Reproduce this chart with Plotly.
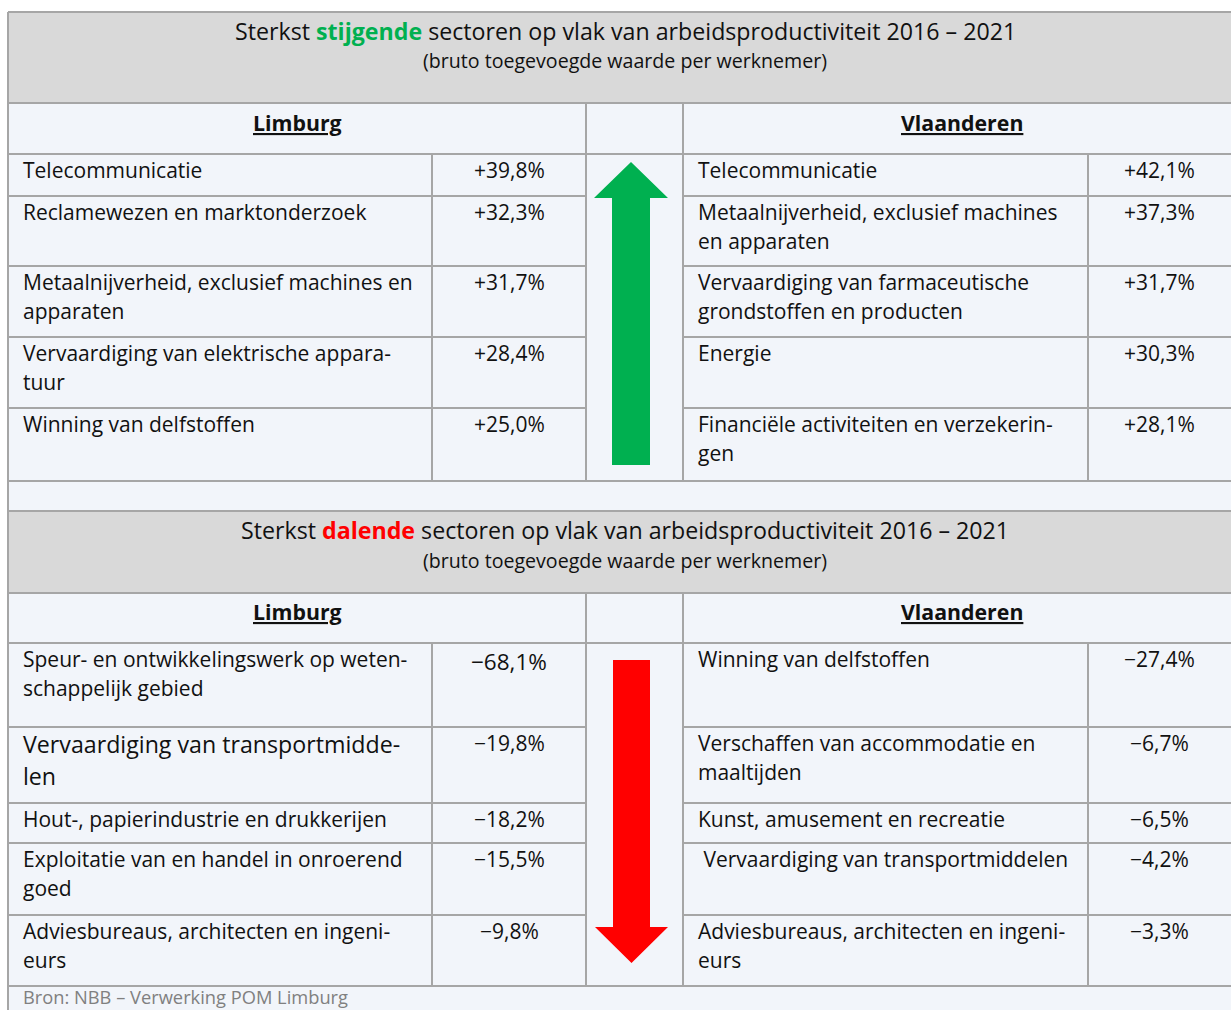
import plotly.graph_objects as go

# ---------------- data ----------------
title_up = "Sterkst <b><span style='color:#00B050'>stijgende</span></b> sectoren op vlak van arbeidsproductiviteit 2016 – 2021"
title_down = "Sterkst <b><span style='color:#FF0000'>dalende</span></b> sectoren op vlak van arbeidsproductiviteit 2016 – 2021"
subtitle = "(bruto toegevoegde waarde per werknemer)"
regions = ["Limburg", "Vlaanderen"]
source = "Bron: NBB – Verwerking POM Limburg"

up_limburg_labels = [
    ["Telecommunicatie"],
    ["Reclamewezen en marktonderzoek"],
    ["Metaalnijverheid, exclusief machines en", "apparaten"],
    ["Vervaardiging van elektrische appara-", "tuur"],
    ["Winning van delfstoffen"],
]
up_limburg_values = [39.8, 32.3, 31.7, 28.4, 25.0]

up_vlaanderen_labels = [
    ["Telecommunicatie"],
    ["Metaalnijverheid, exclusief machines", "en apparaten"],
    ["Vervaardiging van farmaceutische", "grondstoffen en producten"],
    ["Energie"],
    ["Financiële activiteiten en verzekerin-", "gen"],
]
up_vlaanderen_values = [42.1, 37.3, 31.7, 30.3, 28.1]

down_limburg_labels = [
    ["Speur- en ontwikkelingswerk op weten-", "schappelijk gebied"],
    ["Vervaardiging van transportmidde-", "len"],
    ["Hout-, papierindustrie en drukkerijen"],
    ["Exploitatie van en handel in onroerend", "goed"],
    ["Adviesbureaus, architecten en ingeni-", "eurs"],
]
down_limburg_values = [-68.1, -19.8, -18.2, -15.5, -9.8]

down_vlaanderen_labels = [
    ["Winning van delfstoffen"],
    ["Verschaffen van accommodatie en", "maaltijden"],
    ["Kunst, amusement en recreatie"],
    ["\u00a0Vervaardiging van transportmiddelen"],
    ["Adviesbureaus, architecten en ingeni-", "eurs"],
]
down_vlaanderen_values = [-27.4, -6.7, -6.5, -4.2, -3.3]

# ---------------- layout constants ----------------
FONT = "Open Sans"
TXT = "#111111"
LINE = "#A6A6A6"
LIGHT = "#F2F5FA"
GREY = "#D9D9D9"
GREEN = "#00B050"
RED = "#FF0000"
BODY = 21
W, H = 1231, 1010

X_L, X_LV, X_A, X_R, X_RV, X_END = 8, 432, 586, 683, 1088, 1240
up_rows = [154, 196, 266, 337, 408, 481]
down_rows = [643, 727, 803, 843, 915, 986]


def fmt(v):
    s = f"{abs(v):.1f}".replace(".", ",")
    return ("+" if v >= 0 else "\u2212") + s + "%"


fig = go.Figure()
shapes = []
ann = []


def rect(x0, y0, x1, y1, color):
    shapes.append(dict(type="rect", x0=x0, x1=x1, y0=y0, y1=y1, fillcolor=color,
                       line=dict(width=0), layer="below"))


def hline(y, x0, x1):
    shapes.append(dict(type="line", x0=x0, x1=x1, y0=y, y1=y, line=dict(color=LINE, width=2)))


def vline(x, y0, y1):
    shapes.append(dict(type="line", x0=x, x1=x, y0=y0, y1=y1, line=dict(color=LINE, width=2)))


def text(x, y, t, size=BODY, color=TXT, xanchor="left"):
    ann.append(dict(x=x, y=y, text=t, showarrow=False, xanchor=xanchor, yanchor="middle",
                    font=dict(family=FONT, size=size, color=color)))


# backgrounds
rect(X_L, 12, X_END, 1020, LIGHT)
rect(X_L, 12, X_END, 103, GREY)
rect(X_L, 511, X_END, 593, GREY)

# full-width lines
for y in [12, 103, 154, 481, 511, 593, 643, 986]:
    hline(y, X_L, X_END)
vline(X_L, 12, 1020)


def section(head_top, rows, l_labels, l_vals, r_labels, r_vals, big=None):
    top, bot = rows[0], rows[-1]
    vline(X_A, head_top, bot)
    vline(X_R, head_top, bot)
    vline(X_LV, top, bot)
    vline(X_RV, top, bot)
    for y in rows[1:-1]:
        hline(y, X_L, X_A)
        hline(y, X_R, X_END)
    for i in range(len(l_labels)):
        y0 = rows[i]
        size = BODY
        dy2 = 29
        vsize = BODY
        if big and i in big.get("label", []):
            size = 23.2
            dy2 = 32
        if big and i in big.get("value", []):
            vsize = 22.5
        for j, line in enumerate(l_labels[i]):
            text(21, y0 + 16 + j * dy2 + (1 if size > BODY else 0), line, size)
        text((X_LV + X_A) / 2, y0 + 16 + (2 if vsize > BODY else 0), fmt(l_vals[i]), vsize, xanchor="center")
        for j, line in enumerate(r_labels[i]):
            text(696, y0 + 16 + j * 29, line)
        text((X_RV + W) / 2, y0 + 16, fmt(r_vals[i]), xanchor="center")


section(103, up_rows, up_limburg_labels, up_limburg_values, up_vlaanderen_labels, up_vlaanderen_values)
section(593, down_rows, down_limburg_labels, down_limburg_values, down_vlaanderen_labels,
        down_vlaanderen_values, big={"label": [1], "value": [0]})

# headings
text(625, 31, title_up, 23.2, xanchor="center")
text(625, 60, subtitle, 19.6, xanchor="center")
text(625, 530, title_down, 23.2, xanchor="center")
text(625, 560, subtitle, 19.6, xanchor="center")
for yy in [122, 611]:
    text(297, yy, f"<b><u>{regions[0]}</u></b>", 21.3, xanchor="center")
    text(962, yy, f"<b><u>{regions[1]}</u></b>", 21.3, xanchor="center")

text(21, 996.5, source, 18.3, color="#808080")

# arrows
shapes.append(dict(type="path", path="M 612,465 L 612,198 L 594,198 L 631,162 L 668,198 L 650,198 L 650,465 Z",
                   fillcolor=GREEN, line=dict(width=0)))
shapes.append(dict(type="path", path="M 613,660 L 650,660 L 650,927 L 668,927 L 631.5,963 L 595,927 L 613,927 Z",
                   fillcolor=RED, line=dict(width=0)))

fig.update_layout(
    width=W, height=H,
    margin=dict(l=0, r=0, t=0, b=0),
    paper_bgcolor="white", plot_bgcolor="white",
    xaxis=dict(range=[0, W], visible=False, fixedrange=True),
    yaxis=dict(range=[H, 0], visible=False, fixedrange=True),
    shapes=shapes, annotations=ann, showlegend=False,
)
fig.write_html("out.html", config={"displayModeBar": False},
               post_script="document.body.style.margin='0';document.body.style.overflow='hidden';")
